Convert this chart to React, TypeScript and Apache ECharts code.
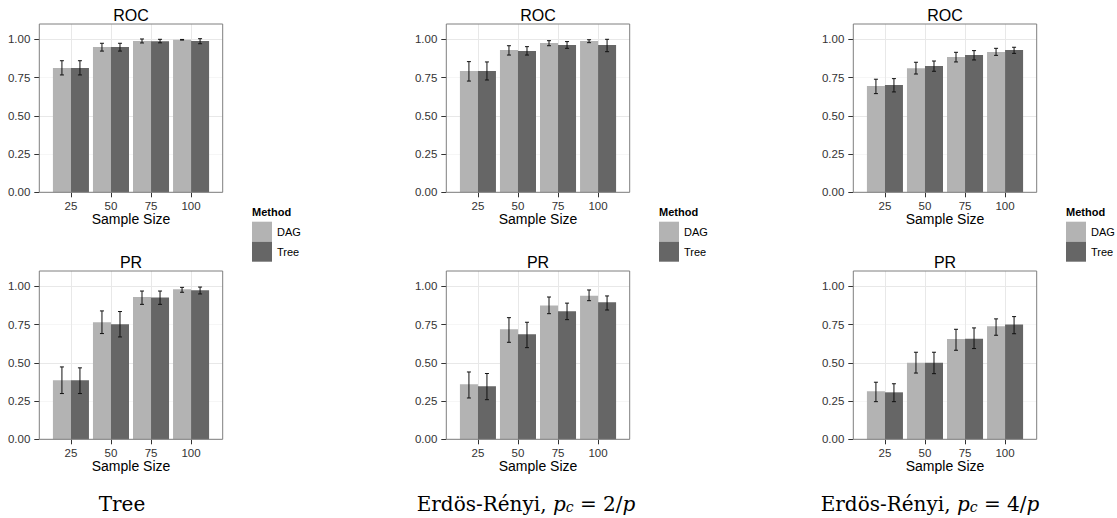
import React, { useEffect, useRef } from 'react';
import * as echarts from 'echarts';

// ---------- data ----------
const sampleSizes = ['25', '50', '75', '100'];
const methods = ['DAG', 'Tree'];
const metricTitles = ['ROC', 'PR'];
const yTicks = [0, 0.25, 0.5, 0.75, 1];
const xTicks = [1, 2, 3, 4];

// each entry: [mean, lower, upper] per sample size
const treeRocDAG = [[0.812, 0.767, 0.860], [0.950, 0.923, 0.974], [0.989, 0.976, 1.002], [0.997, 0.995, 0.999]];
const treeRocTree = [[0.812, 0.767, 0.860], [0.950, 0.923, 0.974], [0.988, 0.977, 1.000], [0.989, 0.971, 1.004]];
const treePrDAG = [[0.386, 0.299, 0.473], [0.765, 0.691, 0.839], [0.930, 0.882, 0.969], [0.980, 0.961, 0.993]];
const treePrTree = [[0.386, 0.299, 0.467], [0.752, 0.669, 0.835], [0.926, 0.882, 0.969], [0.974, 0.950, 0.995]];

const er2RocDAG = [[0.793, 0.727, 0.854], [0.930, 0.897, 0.958], [0.976, 0.958, 0.991], [0.989, 0.978, 0.997]];
const er2RocTree = [[0.793, 0.734, 0.852], [0.923, 0.897, 0.952], [0.963, 0.941, 0.985], [0.963, 0.919, 1.000]];
const er2PrDAG = [[0.359, 0.270, 0.440], [0.719, 0.634, 0.795], [0.874, 0.821, 0.930], [0.939, 0.906, 0.976]];
const er2PrTree = [[0.346, 0.259, 0.430], [0.686, 0.599, 0.765], [0.837, 0.782, 0.890], [0.895, 0.845, 0.937]];

const er4RocDAG = [[0.695, 0.645, 0.739], [0.810, 0.773, 0.850], [0.884, 0.852, 0.915], [0.917, 0.895, 0.941]];
const er4RocTree = [[0.701, 0.656, 0.743], [0.826, 0.791, 0.858], [0.897, 0.865, 0.926], [0.930, 0.908, 0.948]];
const er4PrDAG = [[0.314, 0.246, 0.373], [0.501, 0.433, 0.569], [0.656, 0.582, 0.719], [0.739, 0.680, 0.787]];
const er4PrTree = [[0.307, 0.246, 0.363], [0.501, 0.429, 0.569], [0.658, 0.593, 0.728], [0.750, 0.690, 0.802]];

const panelData = [
  [[treeRocDAG, treeRocTree], [treePrDAG, treePrTree]],
  [[er2RocDAG, er2RocTree], [er2PrDAG, er2PrTree]],
  [[er4RocDAG, er4RocTree], [er4PrDAG, er4PrTree]],
];

// ---------- style / layout ----------
const methodColors = ['#b3b3b3', '#666666'];
const SANS = 'Liberation Sans';
const SERIF = 'DejaVu Serif';
const PANEL_LEFT = [39.3, 446.3, 853.3];
const PANEL_TOP = [24, 271];
const PANEL_W = 183.4;
const PANEL_H = 168.3;
const BAR_W = 0.45;
const WHISKER = 0.1;
const CAPTION_X = [122, 526, 930];
const CAPTION_Y = 504;

function makeRenderItem(offset: number, color: string) {
  return (params: any, api: any) => {
    const xi = api.value(0);
    const mean = api.value(1);
    const lo = api.value(2);
    const hi = api.value(3);
    const x0 = xi + offset;
    const x1 = x0 + BAR_W;
    const xc = x0 + BAR_W / 2;
    const pTop = api.coord([x0, mean]);
    const pBot = api.coord([x1, 0]);
    const eHi = api.coord([xc, hi]);
    const eLo = api.coord([xc, lo]);
    const hw = api.size([WHISKER, 0])[0] / 2;
    const ls = { stroke: '#111', lineWidth: 1 };
    return {
      type: 'group',
      children: [
        { type: 'rect', shape: { x: pTop[0], y: pTop[1], width: pBot[0] - pTop[0], height: pBot[1] - pTop[1] }, style: { fill: color } },
        { type: 'line', shape: { x1: eHi[0], y1: eHi[1], x2: eLo[0], y2: eLo[1] }, style: ls },
        { type: 'line', shape: { x1: eHi[0] - hw, y1: eHi[1], x2: eHi[0] + hw, y2: eHi[1] }, style: ls },
        { type: 'line', shape: { x1: eLo[0] - hw, y1: eLo[1], x2: eLo[0] + hw, y2: eLo[1] }, style: ls },
      ],
    };
  };
}

function buildOption() {
  const grid: any[] = [];
  const xAxis: any[] = [];
  const yAxis: any[] = [];
  const series: any[] = [];
  const graphic: any[] = [];
  const legend: any[] = [];

  panelData.forEach((metrics, p) => {
    metrics.forEach((methodArrs, m) => {
      const gi = grid.length;
      const left = PANEL_LEFT[p];
      const top = PANEL_TOP[m];
      grid.push({
        left, top, width: PANEL_W, height: PANEL_H,
        show: true, borderColor: '#7f7f7f', borderWidth: 1, backgroundColor: 'transparent', z: 10,
      });
      xAxis.push({
        gridIndex: gi, type: 'value', min: 0.21, max: 4.79, splitNumber: 4,
        axisLine: { show: false },
        axisTick: { show: true, customValues: xTicks, length: 5, lineStyle: { color: '#333' } },
        axisLabel: {
          customValues: xTicks, margin: 8, fontSize: 11.5, color: '#333', fontFamily: SANS,
          formatter: (v: number) => sampleSizes[Math.round(v) - 1] ?? '',
        },
        splitLine: { show: true, lineStyle: { color: '#e8e8e8', width: 1 } },
      });
      yAxis.push({
        gridIndex: gi, type: 'value', min: 0, max: 1.1, interval: 0.125,
        axisLine: { show: false },
        axisTick: { show: true, customValues: yTicks, length: 5, lineStyle: { color: '#333' } },
        axisLabel: {
          customValues: yTicks, margin: 9, fontSize: 11.5, color: '#333', fontFamily: SANS,
          formatter: (v: number) => v.toFixed(2),
        },
        splitLine: { show: true, lineStyle: { color: ['#e8e8e8', '#f6f6f6'], width: 1 } },
      });
      methodArrs.forEach((arr, k) => {
        series.push({
          type: 'custom',
          name: methods[k],
          xAxisIndex: gi,
          yAxisIndex: gi,
          itemStyle: { color: methodColors[k] },
          encode: { x: 0, y: 1 },
          renderItem: makeRenderItem(k === 0 ? -BAR_W : 0, methodColors[k]),
          data: arr.map((d, i) => [i + 1, d[0], d[1], d[2]]),
        });
      });
      const cx = left + PANEL_W / 2;
      graphic.push({
        type: 'text', x: cx, y: m === 0 ? 15.7 : 262.7,
        style: { text: metricTitles[m], textAlign: 'center', textVerticalAlign: 'middle', fontSize: 16, fontFamily: SANS, fill: '#000' },
      });
      graphic.push({
        type: 'text', x: cx, y: top + PANEL_H + 26.4,
        style: { text: 'Sample Size', textAlign: 'center', textVerticalAlign: 'middle', fontSize: 14, fontFamily: SANS, fill: '#000' },
      });
    });

    const legLeft = PANEL_LEFT[p] + PANEL_W + 29.3;
    legend.push({
      left: legLeft, top: 221.7, orient: 'vertical', padding: 0, itemGap: 0,
      itemWidth: 20, itemHeight: 20, icon: 'rect', selectedMode: false,
      data: methods,
      textStyle: { fontSize: 11, color: '#000', fontFamily: SANS },
    });
    graphic.push({
      type: 'text', x: legLeft, y: 212.3,
      style: { text: 'Method', textAlign: 'left', textVerticalAlign: 'middle', fontSize: 11, fontWeight: 'bold', fontFamily: SANS, fill: '#000' },
    });
  });

  const rich = {
    n: { fontFamily: SERIF, fontSize: 20, lineHeight: 20, color: '#000' },
    i: { fontFamily: SERIF, fontSize: 20, lineHeight: 20, fontStyle: 'italic', color: '#000' },
    s: { fontFamily: SERIF, fontSize: 14, lineHeight: 8, fontStyle: 'italic', verticalAlign: 'bottom', color: '#000' },
  };
  const captions = [
    '{n|Tree}',
    '{n|Erdös-Rényi, }{i|p}{s|c}{n| = 2/}{i|p}',
    '{n|Erdös-Rényi, }{i|p}{s|c}{n| = 4/}{i|p}',
  ];
  captions.forEach((c, p) => {
    graphic.push({
      type: 'text', x: CAPTION_X[p], y: CAPTION_Y,
      style: { text: c, rich, textAlign: 'center', textVerticalAlign: 'middle', fontFamily: SERIF, fontSize: 20, fill: '#000' },
    });
  });

  return {
    animation: false,
    backgroundColor: '#ffffff',
    textStyle: { fontFamily: SANS },
    grid, xAxis, yAxis, series, legend, graphic,
  };
}

export default function App() {
  const ref = useRef<HTMLDivElement>(null);
  useEffect(() => {
    if (!ref.current) return;
    const chart = echarts.init(ref.current, undefined, { renderer: 'svg' });
    chart.setOption(buildOption() as any);
    return () => chart.dispose();
  }, []);
  return <div ref={ref} style={{ position: 'absolute', left: 0, top: 0, width: 1117, height: 518 }} />;
}
